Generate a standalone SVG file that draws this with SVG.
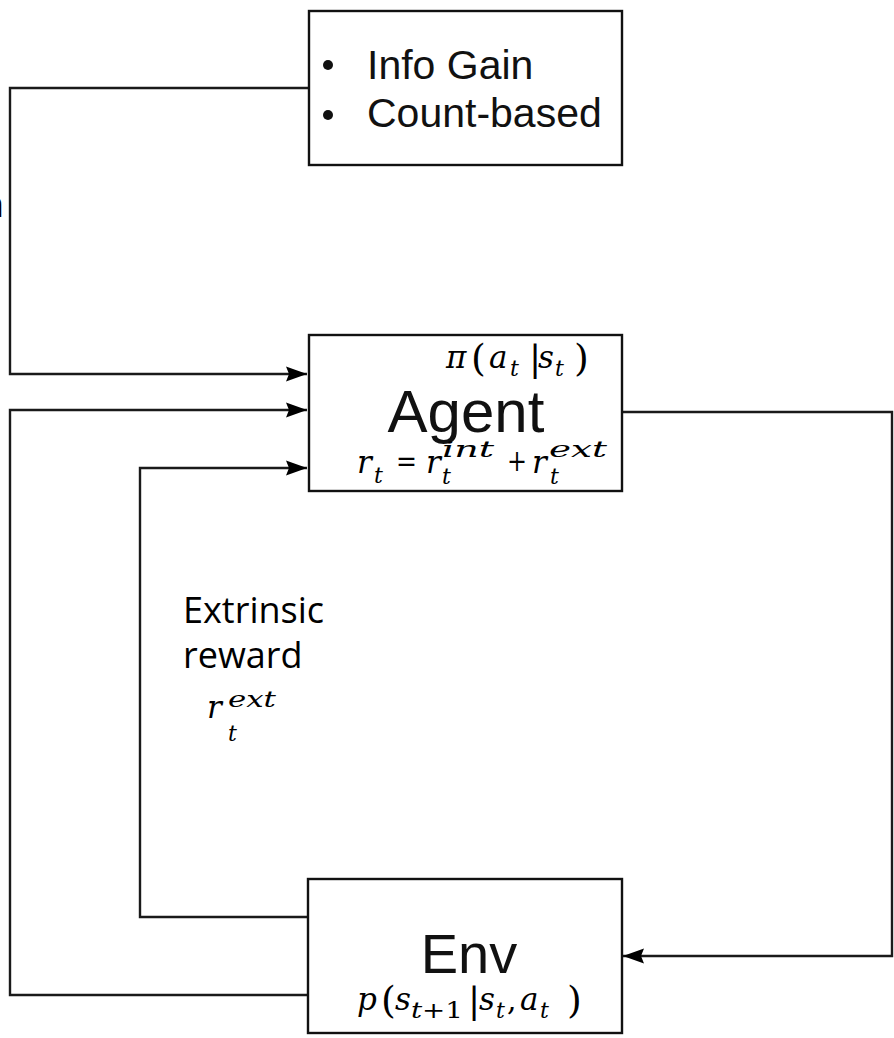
<svg xmlns="http://www.w3.org/2000/svg" width="894" height="1038" viewBox="0 0 894 1038">
<style>
.box{fill:#fff;stroke:#111;stroke-width:2.4}
.wire{fill:none;stroke:#1a1a1a;stroke-width:2.4;stroke-linejoin:miter}
.sans{font-family:"Liberation Sans",Arial,sans-serif;fill:#111}
.lbl{font-family:"Open Sans","Noto Sans",sans-serif;fill:#000}
.m{font-family:"DejaVu Serif","Liberation Serif",serif;fill:#000;font-style:italic;font-size:31px}
.u{font-family:"DejaVu Serif","Liberation Serif",serif;fill:#000;font-style:normal}
.s{font-family:"DejaVu Serif","Liberation Serif",serif;fill:#000;font-style:italic;font-size:22px}
</style>
<defs>
<marker id="arr" markerWidth="22" markerHeight="16" refX="21" refY="8" orient="auto" markerUnits="userSpaceOnUse">
<path d="M0,0.5 L21,8 L0,15.5 L3,8 Z" fill="#000"/>
</marker>
</defs>
<rect width="894" height="1038" fill="#fff"/>
<g id="connectors">
<polyline class="wire" points="308,88 10,88 10,374 307,374" marker-end="url(#arr)"/>
<polyline class="wire" points="308,995 10,995 10,410 307,410" marker-end="url(#arr)"/>
<polyline class="wire" points="308,917 140,917 140,468 307,468" marker-end="url(#arr)"/>
<polyline class="wire" points="622,412 892,412 892,956 623,956" marker-end="url(#arr)"/>
</g>
<g id="methods">
<rect class="box" x="309" y="11" width="313" height="154"/>
<circle cx="328" cy="65" r="5" fill="#111"/>
<circle cx="328" cy="115" r="5" fill="#111"/>
<text class="sans" x="367" y="79" font-size="41">Info Gain</text>
<text class="sans" x="367" y="127" font-size="41">Count-based</text>
</g>
<g id="agent">
<rect class="box" x="309" y="335" width="313" height="156"/>
<text class="m" x="446" y="368" font-size="35">π</text>
<text class="u" x="471" y="371" font-size="38">(</text>
<text class="m" x="489" y="368">a</text>
<text class="s" x="510" y="376">t</text>
<text class="u" x="529" y="371" font-size="36">|</text>
<text class="m" x="538" y="368">s</text>
<text class="s" x="555" y="376">t</text>
<text class="u" x="574" y="371" font-size="38">)</text>
<text class="sans" x="466" y="432" font-size="60" text-anchor="middle">Agent</text>
<text class="m" x="357" y="473">r</text>
<text class="s" x="374" y="483">t</text>
<text class="u" x="396" y="471" font-size="30" textLength="21" lengthAdjust="spacingAndGlyphs">=</text>
<text class="m" x="426" y="473">r</text>
<text class="s" x="442" y="457" textLength="52" lengthAdjust="spacingAndGlyphs">int</text>
<text class="s" x="442" y="484">t</text>
<text class="u" x="507" y="471" font-size="30" textLength="20" lengthAdjust="spacingAndGlyphs">+</text>
<text class="m" x="532" y="473">r</text>
<text class="s" x="549" y="457" textLength="58" lengthAdjust="spacingAndGlyphs">ext</text>
<text class="s" x="550" y="484">t</text>
</g>
<g id="env">
<rect class="box" x="308" y="879" width="314" height="154"/>
<text class="sans" x="469" y="973" font-size="56" text-anchor="middle">Env</text>
<text class="m" x="357" y="1010">p</text>
<text class="u" x="381" y="1013" font-size="38">(</text>
<text class="m" x="395" y="1010">s</text>
<text class="s" x="411" y="1018" textLength="52" lengthAdjust="spacingAndGlyphs">t<tspan font-style="normal">+1</tspan></text>
<text class="u" x="468" y="1013" font-size="36">|</text>
<text class="m" x="479" y="1010">s</text>
<text class="s" x="496" y="1018">t</text>
<text class="u" x="507" y="1010" font-size="30">,</text>
<text class="m" x="520" y="1010">a</text>
<text class="s" x="540" y="1018">t</text>
<text class="u" x="567" y="1013" font-size="38">)</text>
</g>
<g id="labels">
<text class="lbl" x="183" y="623" font-size="36">Extrinsic</text>
<text class="lbl" x="183" y="668" font-size="36">reward</text>
<text class="m" x="207" y="718" font-size="36">r</text>
<text class="s" x="228" y="707" font-size="25" textLength="48" lengthAdjust="spacingAndGlyphs">ext</text>
<text class="s" x="228" y="741" font-size="25">t</text>
<text class="lbl" x="4" y="217" font-size="36" text-anchor="end">n</text>
</g>
</svg>
